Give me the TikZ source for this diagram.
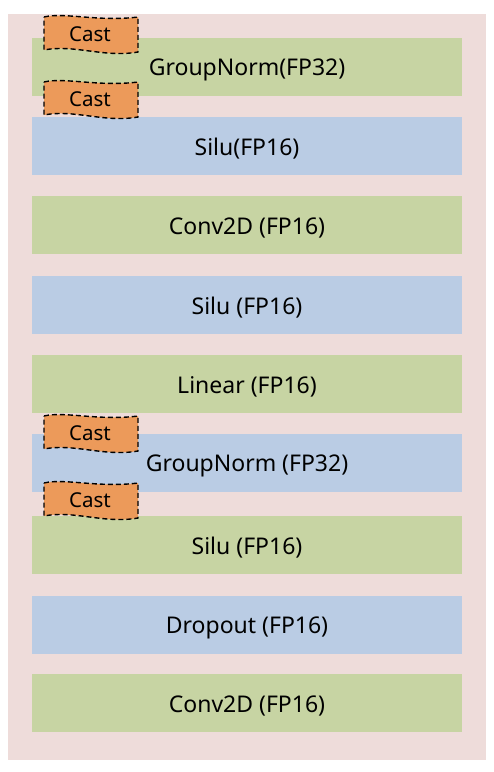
\documentclass[tikz,border=0pt]{standalone}
\usepackage{fontspec}
\setmainfont{Noto Sans}
\definecolor{bgpink}{RGB}{238,220,218}
\definecolor{bargreen}{RGB}{199,212,163}
\definecolor{barblue}{RGB}{186,204,228}
\definecolor{castorange}{RGB}{236,154,90}
\tikzset{
  bar/.style={fill=#1, draw=none, minimum width=430pt, minimum height=58pt, inner sep=0pt,
    label={[barlabel]center:\barText}},
  barlabel/.style={inner sep=0pt, yshift=-3pt, font=\fontsize{23}{27}\selectfont, text=black},
  castpath/.style={fill=castorange, draw=black, line width=1.4pt, dash pattern=on 5pt off 3pt},
  casttext/.style={inner sep=0pt, font=\fontsize{20.5}{24}\selectfont, text=black},
  pics/cast/.style={code={
    \path[castpath] (0,1) .. controls (20,-4) and (55,6) .. (94,1) -- (94,36)
      .. controls (60,42) and (30,28) .. (0,34) -- cycle;
    \node[casttext] (-t) at (46,18.5) {Cast};
  }}
}
\newcommand\barText{}
\newcommand\mkbar[4]{%
  \node[fill=#2, draw=none, minimum width=430pt, minimum height=58pt, inner sep=0pt] (#1) at (247,#3) {};
  \node[barlabel] (#1-t) at (#1.center) {#4};}
\begin{document}
\begin{tikzpicture}[x=1pt,y=-1pt]
\useasboundingbox (0,0) rectangle (494,772);
\fill[bgpink] (8,14) rectangle (486,760);
\mkbar{b1}{bargreen}{67}{GroupNorm(FP32)}
\mkbar{b2}{barblue}{145.5}{Silu(FP16)}
\mkbar{b3}{bargreen}{225}{Conv2D (FP16)}
\mkbar{b4}{barblue}{304.5}{Silu (FP16)}
\mkbar{b5}{bargreen}{384}{Linear (FP16)}
\mkbar{b6}{barblue}{462.5}{GroupNorm (FP32)}
\mkbar{b7}{bargreen}{544.5}{Silu (FP16)}
\mkbar{b8}{barblue}{624.5}{Dropout (FP16)}
\mkbar{b9}{bargreen}{703}{Conv2D (FP16)}
\pic (c1) at (44,16) {cast};
\pic (c2) at (44,81) {cast};
\pic (c3) at (44,415) {cast};
\pic (c4) at (44,482) {cast};
\end{tikzpicture}
\end{document}
